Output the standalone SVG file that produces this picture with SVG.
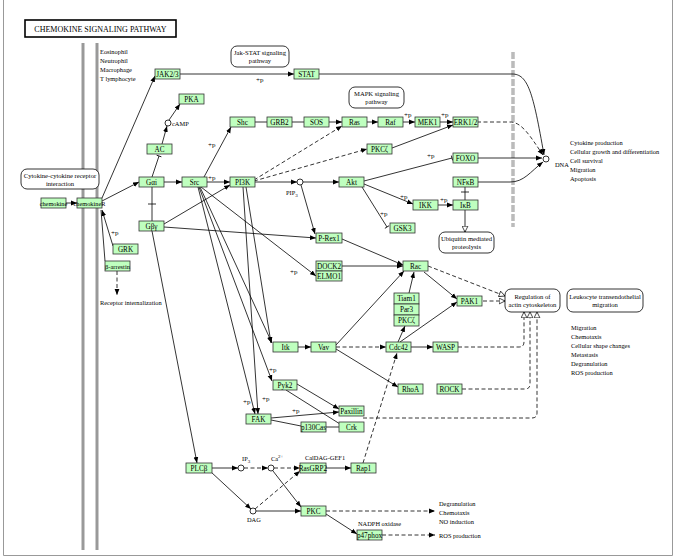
<svg xmlns="http://www.w3.org/2000/svg" width="677" height="556" viewBox="0 0 677 556">
<style>
text{font-family:"Liberation Serif","DejaVu Serif",serif;font-size:6.4px;fill:#000}
.n rect{fill:#bfffbf;stroke:#333;stroke-width:0.8}
.n text{text-anchor:middle;font-size:7.2px}
.rb rect{fill:#fff;stroke:#000;stroke-width:0.8}
.rb text{text-anchor:middle;font-size:6.6px}
.c path,.c line{fill:none;stroke:#000;stroke-width:0.8}
.d{stroke-dasharray:4,2.5}
.cp{fill:#fff;stroke:#000;stroke-width:0.8}
.mem{stroke:#999;stroke-width:3}
.pp{font-size:7px}
</style>
<defs>
<marker id="a" viewBox="0 0 10 10" refX="10" refY="5" markerWidth="6" markerHeight="6" markerUnits="userSpaceOnUse" orient="auto"><path d="M0,1 L10,5 L0,9 z" fill="#000"/></marker>
<marker id="h" viewBox="0 0 12 12" refX="11" refY="6" markerWidth="7" markerHeight="7" markerUnits="userSpaceOnUse" orient="auto"><path d="M1,1 L11,6 L1,11 z" fill="#fff" stroke="#000" stroke-width="1.2"/></marker>
<marker id="b" viewBox="0 0 4 10" refX="2" refY="5" markerWidth="2" markerHeight="7" markerUnits="userSpaceOnUse" orient="auto"><path d="M2,0 L2,10" stroke="#000" stroke-width="1.6"/></marker>
</defs>
<rect width="677" height="556" fill="#fff"/>
<path d="M3.5,0 L3.5,555.5 L672.5,555.5 L672.5,0" fill="none" stroke="#999" stroke-width="1"/>
<rect x="25" y="20" width="151" height="17" fill="#fff" stroke="#000" stroke-width="1.6"/>
<text x="100.5" y="31.5" text-anchor="middle" style="font-size:8px">CHEMOKINE SIGNALING PATHWAY</text>
<line class="mem" x1="83" y1="43" x2="83" y2="550"/>
<line class="mem" x1="97" y1="43" x2="97" y2="550"/>
<line x1="513" y1="52" x2="513" y2="227" stroke="#bbb" stroke-width="3.5" stroke-dasharray="7,2"/>
<g id="celltypes"><text x="100" y="54">Eosinophil</text><text x="100" y="63">Neutrophil</text><text x="100" y="72">Macrophage</text><text x="100" y="81">T lymphocyte</text></g>

<g id="connectors" class="c">
<path d="M66,203 L77,203" marker-end="url(#a)"/>
<path d="M102,201 L139,182" marker-end="url(#a)"/>
<path d="M102,198 L155,76" marker-end="url(#a)"/>
<path d="M113,246 L102,210" marker-end="url(#a)"/>
<path d="M105,261 L101,210"/>
<path class="d" d="M117,271 L117,295" marker-end="url(#a)"/>
<path d="M152,177 L159,156" marker-end="url(#b)"/>
<path d="M162,144 L167,126" marker-end="url(#a)"/>
<path d="M169,120 L180,104" marker-end="url(#a)"/>
<path d="M164,182 L182,182" marker-end="url(#a)"/>
<path d="M152,187 L152,221 M148,204 L156,204"/>
<path d="M207,182 L230,182" marker-end="url(#a)"/>
<path d="M204,177 L231,127" marker-end="url(#a)"/>
<path d="M164,224 L230,185" marker-end="url(#a)"/>
<path d="M164,227 L316,238" marker-end="url(#a)"/>
<path d="M152,231 L197,463" marker-end="url(#a)"/>
<path d="M180,74 L294,74" marker-end="url(#a)"/>
<path d="M319,74 L512,74 C528,74 533,92 544,155" marker-end="url(#a)"/>
<path d="M255,122 L267,122 M292,122 L304,122"/>
<path d="M329,122 L342,122" marker-end="url(#a)"/>
<path d="M367,122 L378,122" marker-end="url(#a)"/>
<path d="M403,122 L415,122" marker-end="url(#a)"/>
<path d="M440,122 L453,122" marker-end="url(#a)"/>
<path class="d" d="M477,122 L510,122 C522,122 530,136 543,155" marker-end="url(#a)"/>
<path class="d" d="M254,180 L342,126" marker-end="url(#a)"/>
<path class="d" d="M254,181 L367,149" marker-end="url(#a)"/>
<path d="M392,148 L453,125" marker-end="url(#a)"/>
<path d="M254,182 L297,182" marker-end="url(#a)"/>
<path d="M303,182 L339,182" marker-end="url(#a)"/>
<path d="M301,185 L315,234" marker-end="url(#a)"/>
<path d="M364,181 L452,158" marker-end="url(#b)"/>
<path d="M477,158 L542,158" marker-end="url(#a)"/>
<path d="M477,182 L510,182 C524,182 530,172 543,162" marker-end="url(#a)"/>
<path d="M465,200 L465,187 M461,192 L469,192"/>
<path d="M438,205 L453,205" marker-end="url(#a)"/>
<path d="M364,184 L413,204" marker-end="url(#a)"/>
<path d="M362,187 L387,227" marker-end="url(#b)"/>
<path d="M465,210 L465,232" marker-end="url(#h)"/>
<path d="M342,239 L403,265" marker-end="url(#a)"/>
<path d="M342,266 L403,266" marker-end="url(#a)"/>
<path d="M201,187 L316,276" marker-end="url(#a)"/>
<path d="M424,272 L457,299" marker-end="url(#a)"/>
<path class="d" d="M428,266 L505,296" marker-end="url(#h)"/>
<path class="d" d="M483,301 L505,301" marker-end="url(#h)"/>
<path d="M409,293 L414,272" marker-end="url(#a)"/>
<path d="M336,345 L404,271" marker-end="url(#a)"/>
<path class="d" d="M336,347 L386,347" marker-end="url(#a)"/>
<path d="M336,349 L398,387" marker-end="url(#a)"/>
<path d="M298,347 L311,347" marker-end="url(#a)"/>
<path d="M400,342 L457,302" marker-end="url(#a)"/>
<path d="M398,342 L405,326" marker-end="url(#a)"/>
<path d="M411,347 L433,347" marker-end="url(#a)"/>
<path class="d" d="M458,347 L519,347 Q524,347 524,342 L524,312" marker-end="url(#h)"/>
<path class="d" d="M462,389 L525,389 Q530,389 530,384 L530,312" marker-end="url(#h)"/>
<path class="d" d="M363,418 L532,418 Q537,418 537,413 L537,312" marker-end="url(#h)"/>
<path d="M200,187 L272,343" marker-end="url(#a)"/>
<path d="M246,187 L271,343" marker-end="url(#a)"/>
<path d="M199,187 L272,381" marker-end="url(#a)"/>
<path d="M198,187 L255,414" marker-end="url(#a)"/>
<path d="M243,187 L258,414" marker-end="url(#a)"/>
<path d="M297,384 L339,409" marker-end="url(#a)"/>
<path d="M286,390 L340,424"/>
<path d="M271,418 L339,412" marker-end="url(#a)"/>
<path d="M271,420 L301,426"/>
<path d="M326,427 L339,427"/>
<path d="M212,468 L238,468" marker-end="url(#a)"/>
<path class="d" d="M244,468 L268,468" marker-end="url(#a)"/>
<path class="d" d="M274,468 L300,468" marker-end="url(#a)"/>
<path d="M326,468 L351,468" marker-end="url(#a)"/>
<path d="M211,472 L251,509" marker-end="url(#a)"/>
<path class="d" d="M255,509 L300,471" marker-end="url(#a)"/>
<path d="M256,511 L301,511" marker-end="url(#a)"/>
<path d="M273,471 L301,507" marker-end="url(#a)"/>
<path class="d" d="M326,511 L435,511" marker-end="url(#a)"/>
<path d="M326,514 L357,534" marker-end="url(#a)"/>
<path class="d" d="M382,535 L435,535" marker-end="url(#a)"/>
<path class="d" d="M363,463 L397,353" marker-end="url(#a)"/>
</g>

<g id="labels">
<text class="pp" x="111" y="235">+p</text>
<text class="pp" x="208" y="180">+p</text>
<text class="pp" x="208" y="147">+p</text>
<text class="pp" x="256" y="82">+p</text>
<text class="pp" x="404" y="117">+p</text>
<text class="pp" x="441" y="117">+p</text>
<text class="pp" x="427" y="158">+p</text>
<text class="pp" x="440" y="202">+p</text>
<text class="pp" x="400" y="199">+p</text>
<text class="pp" x="380" y="216">+p</text>
<text class="pp" x="290" y="274">+p</text>
<text class="pp" x="269" y="372">+p</text>
<text class="pp" x="243" y="404">+p</text>
<text class="pp" x="262" y="401">+p</text>
<text class="pp" x="292" y="413">+p</text>
<text x="172" y="126">cAMP</text>
<text x="286" y="195">PIP<tspan dy="1.5" style="font-size:5px">3</tspan></text>
<text x="555" y="167">DNA</text>
<text x="242" y="461">IP<tspan dy="1.5" style="font-size:5px">3</tspan></text>
<text x="271" y="461">Ca<tspan dy="-3" style="font-size:5px">2+</tspan></text>
<text x="247" y="522">DAG</text>
<text x="305" y="460">CalDAG-GEF1</text>
<text x="358" y="526">NADPH oxidase</text>
<text x="100" y="305">Receptor internalization</text>
<text x="570" y="145">Cytokine production</text>
<text x="570" y="154">Cellular growth and differentiation</text>
<text x="570" y="163">Cell survival</text>
<text x="570" y="172">Migration</text>
<text x="570" y="181">Apoptosis</text>
<text x="571" y="330">Migration</text>
<text x="571" y="339">Chemotaxis</text>
<text x="571" y="348">Cellular shape changes</text>
<text x="571" y="357">Metastasis</text>
<text x="571" y="366">Degranulation</text>
<text x="571" y="375">ROS production</text>
<text x="439" y="506">Degranulation</text>
<text x="439" y="515">Chemotaxis</text>
<text x="439" y="524">NO induction</text>
<text x="439" y="538">ROS production</text>
</g>

<g id="circles" class="cp">
<circle cx="168" cy="123" r="3"/><circle cx="300" cy="182" r="3"/><circle cx="546" cy="159" r="3"/>
<circle cx="241" cy="468" r="3"/><circle cx="271" cy="468" r="3"/><circle cx="253" cy="511" r="3"/>
</g>

<g id="jakstat" class="rb"><rect x="231" y="46" width="58" height="21" rx="6"/><text x="260" y="55">Jak-STAT signaling</text><text x="260" y="63">pathway</text></g>
<g id="mapk" class="rb"><rect x="349" y="87" width="55" height="21" rx="6"/><text x="376.5" y="96">MAPK signaling</text><text x="376.5" y="104">pathway</text></g>
<g id="cytokine" class="rb"><rect x="21" y="169" width="78" height="20" rx="6"/><text x="60" y="178">Cytokine-cytokine receptor</text><text x="60" y="186">interaction</text></g>
<g id="ubiquitin" class="rb"><rect x="439" y="232" width="55" height="21" rx="6"/><text x="466.5" y="241">Ubiquitin mediated</text><text x="466.5" y="249">proteolysis</text></g>
<g id="actin" class="rb"><rect x="505" y="289" width="55" height="23" rx="6"/><text x="532.5" y="299">Regulation of</text><text x="532.5" y="307">actin cytoskeleton</text></g>
<g id="leukocyte" class="rb"><rect x="567" y="289" width="76" height="23" rx="6"/><text x="605" y="299">Leukocyte transendothelial</text><text x="605" y="307">migration</text></g>

<g id="n-jak" class="n"><rect x="155" y="69" width="25" height="10"/><text x="167.5" y="76.5">JAK2/3</text></g>
<g id="n-stat" class="n"><rect x="294" y="69" width="25" height="10"/><text x="306.5" y="76.5">STAT</text></g>
<g id="n-pka" class="n"><rect x="179" y="94" width="25" height="10"/><text x="191.5" y="101.5">PKA</text></g>
<g id="n-ac" class="n"><rect x="147" y="144" width="25" height="10"/><text x="159.5" y="151.5">AC</text></g>
<g id="n-gai" class="n"><rect x="139" y="177" width="25" height="10"/><text x="151.5" y="184.5">Gαi</text></g>
<g id="n-src" class="n"><rect x="182" y="177" width="25" height="10"/><text x="194.5" y="184.5">Src</text></g>
<g id="n-pi3k" class="n"><rect x="230" y="177" width="25" height="10"/><text x="242.5" y="184.5">PI3K</text></g>
<g id="n-shc" class="n"><rect x="230" y="117" width="25" height="10"/><text x="242.5" y="124.5">Shc</text></g>
<g id="n-grb2" class="n"><rect x="267" y="117" width="25" height="10"/><text x="279.5" y="124.5">GRB2</text></g>
<g id="n-sos" class="n"><rect x="304" y="117" width="25" height="10"/><text x="316.5" y="124.5">SOS</text></g>
<g id="n-ras" class="n"><rect x="342" y="117" width="25" height="10"/><text x="354.5" y="124.5">Ras</text></g>
<g id="n-raf" class="n"><rect x="378" y="117" width="25" height="10"/><text x="390.5" y="124.5">Raf</text></g>
<g id="n-mek1" class="n"><rect x="415" y="117" width="25" height="10"/><text x="427.5" y="124.5">MEK1</text></g>
<g id="n-erk" class="n"><rect x="453" y="117" width="25" height="10"/><text x="465.5" y="124.5">ERK1/2</text></g>
<g id="n-pkcz1" class="n"><rect x="367" y="144" width="25" height="10"/><text x="379.5" y="151.5">PKCζ</text></g>
<g id="n-foxo" class="n"><rect x="453" y="153" width="25" height="10"/><text x="465.5" y="160.5">FOXO</text></g>
<g id="n-nfkb" class="n"><rect x="453" y="177" width="25" height="10"/><text x="465.5" y="184.5">NFκB</text></g>
<g id="n-ikb" class="n"><rect x="453" y="200" width="25" height="10"/><text x="465.5" y="207.5">IκB</text></g>
<g id="n-ikk" class="n"><rect x="413" y="200" width="25" height="10"/><text x="425.5" y="207.5">IKK</text></g>
<g id="n-akt" class="n"><rect x="339" y="177" width="25" height="10"/><text x="351.5" y="184.5">Akt</text></g>
<g id="n-gsk3" class="n"><rect x="390" y="223" width="25" height="10"/><text x="402.5" y="230.5">GSK3</text></g>
<g id="n-gbg" class="n"><rect x="139" y="221" width="25" height="10"/><text x="151.5" y="228.5">Gβγ</text></g>
<g id="n-grk" class="n"><rect x="113" y="244" width="25" height="10"/><text x="125.5" y="251.5">GRK</text></g>
<g id="n-barr" class="n"><rect x="105" y="261" width="25" height="10"/><text x="117.5" y="268.5" style="font-size:6.5px">β-arrestin</text></g>
<g id="n-chemokine" class="n"><rect x="41" y="198" width="25" height="10"/><text x="53.5" y="205.5" style="font-size:6.3px">chemokine</text></g>
<g id="n-chemokineR" class="n"><rect x="77" y="198" width="25" height="10"/><text x="89.5" y="205.5" style="font-size:6.3px">chemokineR</text></g>
<g id="n-prex1" class="n"><rect x="316" y="233" width="26" height="10"/><text x="329" y="240.5">P-Rex1</text></g>
<g id="n-dock2" class="n"><rect x="316" y="261" width="26" height="10"/><text x="329" y="268.5">DOCK2</text><rect x="316" y="271" width="26" height="10"/><text x="329" y="278.5">ELMO1</text></g>
<g id="n-rac" class="n"><rect x="403" y="261" width="25" height="10"/><text x="415.5" y="268.5">Rac</text></g>
<g id="n-tiam1" class="n"><rect x="394" y="293" width="25" height="11"/><text x="406.5" y="301">Tiam1</text><rect x="394" y="304" width="25" height="11"/><text x="406.5" y="312">Par3</text><rect x="394" y="315" width="25" height="11"/><text x="406.5" y="323">PKCζ</text></g>
<g id="n-pak1" class="n"><rect x="457" y="296" width="25" height="10"/><text x="469.5" y="303.5">PAK1</text></g>
<g id="n-itk" class="n"><rect x="273" y="342" width="25" height="10"/><text x="285.5" y="349.5">Itk</text></g>
<g id="n-vav" class="n"><rect x="311" y="342" width="25" height="10"/><text x="323.5" y="349.5">Vav</text></g>
<g id="n-cdc42" class="n"><rect x="386" y="342" width="25" height="10"/><text x="398.5" y="349.5">Cdc42</text></g>
<g id="n-wasp" class="n"><rect x="433" y="342" width="25" height="10"/><text x="445.5" y="349.5">WASP</text></g>
<g id="n-rhoa" class="n"><rect x="398" y="384" width="25" height="10"/><text x="410.5" y="391.5">RhoA</text></g>
<g id="n-rock" class="n"><rect x="437" y="384" width="25" height="10"/><text x="449.5" y="391.5">ROCK</text></g>
<g id="n-pyk2" class="n"><rect x="273" y="380" width="24" height="10"/><text x="285" y="387.5">Pyk2</text></g>
<g id="n-fak" class="n"><rect x="246" y="414" width="25" height="10"/><text x="258.5" y="421.5">FAK</text></g>
<g id="n-paxillin" class="n"><rect x="339" y="406" width="25" height="10"/><text x="351.5" y="413.5">Paxillin</text></g>
<g id="n-p130cas" class="n"><rect x="301" y="422" width="25" height="10"/><text x="313.5" y="429.5">p130Cas</text></g>
<g id="n-crk" class="n"><rect x="339" y="422" width="25" height="10"/><text x="351.5" y="429.5">Crk</text></g>
<g id="n-plcb" class="n"><rect x="186" y="463" width="26" height="10"/><text x="199" y="470.5">PLCβ</text></g>
<g id="n-rasgrp2" class="n"><rect x="300" y="463" width="26" height="10"/><text x="313" y="470.5">RasGRP2</text></g>
<g id="n-rap1" class="n"><rect x="351" y="463" width="25" height="10"/><text x="363.5" y="470.5">Rap1</text></g>
<g id="n-pkc" class="n"><rect x="301" y="506" width="25" height="10"/><text x="313.5" y="513.5">PKC</text></g>
<g id="n-p47phox" class="n"><rect x="357" y="530" width="25" height="10"/><text x="369.5" y="537.5">p47phox</text></g>
</svg>
